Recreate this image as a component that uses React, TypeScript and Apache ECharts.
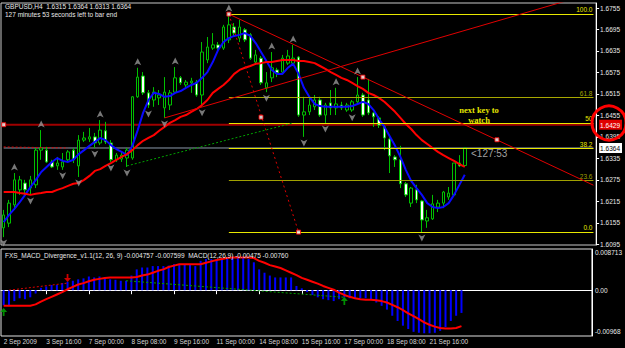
import React, { useEffect, useRef } from 'react';
import * as echarts from 'echarts';

const SLOT_COUNT = 111;
const BARS_PER_LABEL = 8;
const timeLabels = ['2 Sep 2009', '3 Sep 16:00', '7 Sep 00:00', '8 Sep 08:00', '9 Sep 16:00', '11 Sep 00:00', '14 Sep 08:00', '15 Sep 16:00', '17 Sep 00:00', '18 Sep 08:00', '21 Sep 16:00'];

const priceTicks = [1.6755, 1.6695, 1.6635, 1.6575, 1.6515, 1.6455, 1.6395, 1.6335, 1.6275, 1.6215, 1.6155, 1.6095];
const macdTicks = [0.008713, 0, -0.00968];
const macdTickText = ['0.008713', '0.00', '-0.00968'];

// [open, close, low, high]
const candles = [
  [1.6141, 1.6177, 1.6115, 1.6191], [1.6154, 1.6210, 1.6143, 1.6219], [1.6205, 1.6275, 1.6191, 1.6294], [1.6247, 1.6275, 1.6233, 1.6286],
  [1.6266, 1.6247, 1.6233, 1.6275], [1.6252, 1.6275, 1.6233, 1.6286], [1.6261, 1.6358, 1.6252, 1.6364], [1.6358, 1.6364, 1.6331, 1.6414],
  [1.6358, 1.6325, 1.6322, 1.6367], [1.6325, 1.6311, 1.6308, 1.6331], [1.6314, 1.6322, 1.6303, 1.6339], [1.6311, 1.6325, 1.6303, 1.6350],
  [1.6331, 1.6353, 1.6325, 1.6358], [1.6358, 1.6331, 1.6322, 1.6364], [1.6314, 1.6386, 1.6283, 1.6400], [1.6386, 1.6392, 1.6381, 1.6409],
  [1.6389, 1.6395, 1.6381, 1.6420], [1.6395, 1.6378, 1.6364, 1.6406], [1.6378, 1.6414, 1.6372, 1.6442], [1.6412, 1.6381, 1.6375, 1.6437],
  [1.6378, 1.6331, 1.6325, 1.6386], [1.6331, 1.6344, 1.6325, 1.6350], [1.6333, 1.6344, 1.6325, 1.6353], [1.6336, 1.6358, 1.6311, 1.6364],
  [1.6336, 1.6507, 1.6331, 1.6509], [1.6507, 1.6562, 1.6504, 1.6588], [1.6565, 1.6518, 1.6512, 1.6576], [1.6518, 1.6484, 1.6476, 1.6526],
  [1.6498, 1.6520, 1.6479, 1.6534], [1.6504, 1.6512, 1.6484, 1.6526], [1.6476, 1.6520, 1.6448, 1.6562], [1.6484, 1.6518, 1.6470, 1.6526],
  [1.6520, 1.6560, 1.6518, 1.6590], [1.6560, 1.6546, 1.6540, 1.6565], [1.6540, 1.6548, 1.6534, 1.6554], [1.6546, 1.6551, 1.6518, 1.6560],
  [1.6548, 1.6512, 1.6507, 1.6554], [1.6512, 1.6632, 1.6479, 1.6660], [1.6610, 1.6646, 1.6601, 1.6674], [1.6643, 1.6652, 1.6638, 1.6685],
  [1.6652, 1.6643, 1.6638, 1.6660], [1.6643, 1.6702, 1.6638, 1.6708], [1.6666, 1.6708, 1.6657, 1.6738], [1.6702, 1.6685, 1.6674, 1.6713],
  [1.6671, 1.6702, 1.6660, 1.6722], [1.6694, 1.6666, 1.6660, 1.6699], [1.6680, 1.6615, 1.6610, 1.6685], [1.6604, 1.6624, 1.6596, 1.6638],
  [1.6615, 1.6546, 1.6540, 1.6621], [1.6532, 1.6546, 1.6520, 1.6576], [1.6560, 1.6588, 1.6548, 1.6632], [1.6582, 1.6574, 1.6562, 1.6588],
  [1.6576, 1.6615, 1.6571, 1.6624], [1.6601, 1.6621, 1.6596, 1.6638], [1.6601, 1.6615, 1.6596, 1.6652], [1.6618, 1.6456, 1.6451, 1.6621],
  [1.6456, 1.6465, 1.6395, 1.6507], [1.6465, 1.6484, 1.6456, 1.6507], [1.6479, 1.6498, 1.6470, 1.6512], [1.6498, 1.6456, 1.6451, 1.6507],
  [1.6456, 1.6484, 1.6434, 1.6490], [1.6490, 1.6476, 1.6456, 1.6526], [1.6476, 1.6487, 1.6456, 1.6532], [1.6484, 1.6476, 1.6470, 1.6493],
  [1.6470, 1.6484, 1.6465, 1.6490], [1.6470, 1.6493, 1.6465, 1.6498], [1.6493, 1.6512, 1.6490, 1.6562], [1.6512, 1.6456, 1.6451, 1.6518],
  [1.6498, 1.6462, 1.6456, 1.6557], [1.6462, 1.6451, 1.6423, 1.6465], [1.6448, 1.6428, 1.6420, 1.6453], [1.6423, 1.6392, 1.6358, 1.6428],
  [1.6389, 1.6342, 1.6294, 1.6395], [1.6339, 1.6331, 1.6311, 1.6344], [1.6331, 1.6264, 1.6252, 1.6370], [1.6264, 1.6233, 1.6227, 1.6269],
  [1.6210, 1.6252, 1.6199, 1.6255], [1.6247, 1.6219, 1.6210, 1.6261], [1.6216, 1.6163, 1.6129, 1.6219], [1.6160, 1.6169, 1.6141, 1.6191],
  [1.6166, 1.6208, 1.6163, 1.6233], [1.6199, 1.6210, 1.6185, 1.6219], [1.6210, 1.6241, 1.6196, 1.6244], [1.6227, 1.6238, 1.6219, 1.6255],
  [1.6233, 1.6322, 1.6227, 1.6322], [1.6322, 1.6314, 1.6311, 1.6344], [1.6315, 1.6364, 1.6313, 1.6364],
];

const fastMA = [
  1.6157, 1.6177, 1.6194, 1.6213, 1.6233, 1.6255, 1.6275, 1.6297, 1.6311, 1.6325, 1.6336, 1.6328, 1.6325, 1.6331, 1.6347, 1.6358,
  1.6370, 1.6381, 1.6392, 1.6386, 1.6372, 1.6361, 1.6353, 1.6344, 1.6370, 1.6414, 1.6462, 1.6498, 1.6518, 1.6515, 1.6507, 1.6509,
  1.6518, 1.6523, 1.6532, 1.6540, 1.6546, 1.6560, 1.6576, 1.6604, 1.6638, 1.6660, 1.6671, 1.6677, 1.6680, 1.6685, 1.6677, 1.6657,
  1.6632, 1.6607, 1.6582, 1.6571, 1.6571, 1.6588, 1.6599, 1.6571, 1.6532, 1.6507, 1.6487, 1.6481, 1.6479, 1.6479, 1.6479, 1.6479,
  1.6479, 1.6481, 1.6487, 1.6493, 1.6487, 1.6470, 1.6445, 1.6423, 1.6397, 1.6370, 1.6339, 1.6303, 1.6272, 1.6252, 1.6233, 1.6210,
  1.6199, 1.6196, 1.6199, 1.6210, 1.6233, 1.6261, 1.6289,
];

const slowMA = [
  1.6241, 1.6241, 1.6241, 1.6238, 1.6236, 1.6233, 1.6236, 1.6238, 1.6241, 1.6241, 1.6247, 1.6252, 1.6258, 1.6264, 1.6266, 1.6275,
  1.6286, 1.6300, 1.6305, 1.6314, 1.6322, 1.6331, 1.6339, 1.6347, 1.6358, 1.6372, 1.6384, 1.6392, 1.6400, 1.6412, 1.6423, 1.6434,
  1.6442, 1.6451, 1.6456, 1.6465, 1.6473, 1.6484, 1.6498, 1.6518, 1.6529, 1.6540, 1.6554, 1.6571, 1.6582, 1.6588, 1.6593, 1.6599,
  1.6601, 1.6604, 1.6604, 1.6607, 1.6610, 1.6610, 1.6610, 1.6607, 1.6607, 1.6604, 1.6601, 1.6593, 1.6585, 1.6576, 1.6568, 1.6560,
  1.6554, 1.6546, 1.6537, 1.6529, 1.6518, 1.6512, 1.6504, 1.6493, 1.6479, 1.6465, 1.6448, 1.6431, 1.6417, 1.6400, 1.6386, 1.6375,
  1.6364, 1.6353, 1.6344, 1.6336, 1.6328, 1.6319, 1.6311,
];

const macdHist = [
  -0.0032, -0.0032, -0.0023, -0.0017, -0.0019, -0.0015, -0.0007, 0.0005, 0.0008, 0.0011, 0.0011, 0.0015, 0.0018, 0.0020, 0.0023, 0.0025,
  0.0029, 0.0027, 0.0029, 0.0027, 0.0023, 0.0022, 0.0020, 0.0020, 0.0031, 0.0044, 0.0048, 0.0048, 0.0051, 0.0051, 0.0051, 0.0052,
  0.0055, 0.0055, 0.0055, 0.0055, 0.0051, 0.0062, 0.0066, 0.0066, 0.0066, 0.0067, 0.0069, 0.0069, 0.0069, 0.0069, 0.0066, 0.0059,
  0.0044, 0.0037, 0.0031, 0.0027, 0.0027, 0.0027, 0.0027, 0.0009, 0.0004, -0.0004, -0.0010, -0.0015, -0.0019, -0.0021, -0.0023, -0.0019,
  -0.0015, -0.0017, -0.0017, -0.0017, -0.0017, -0.0019, -0.0026, -0.0033, -0.0041, -0.0054, -0.0065, -0.0075, -0.0082, -0.0088, -0.0090, -0.0091,
  -0.0091, -0.0090, -0.0086, -0.0078, -0.0065, -0.0054, -0.0048,
];

const macdSignal = [
  -0.0033, -0.0033, -0.0033, -0.0033, -0.0033, -0.0033, -0.0030, -0.0024, -0.0019, -0.0014, -0.0009, -0.0004, 0.0002, 0.0007, 0.0012, 0.0015,
  0.0019, 0.0022, 0.0024, 0.0026, 0.0027, 0.0027, 0.0027, 0.0027, 0.0027, 0.0028, 0.0031, 0.0033, 0.0037, 0.0041, 0.0044, 0.0049,
  0.0052, 0.0055, 0.0055, 0.0055, 0.0055, 0.0055, 0.0058, 0.0061, 0.0064, 0.0066, 0.0068, 0.0069, 0.0069, 0.0069, 0.0069, 0.0068,
  0.0062, 0.0058, 0.0053, 0.0050, 0.0047, 0.0042, 0.0037, 0.0032, 0.0026, 0.0022, 0.0018, 0.0014, 0.0009, 0.0005, 0.0001, -0.0005,
  -0.0010, -0.0014, -0.0017, -0.0019, -0.0020, -0.0020, -0.0021, -0.0023, -0.0026, -0.0031, -0.0036, -0.0042, -0.0049, -0.0055, -0.0061, -0.0068,
  -0.0073, -0.0077, -0.0080, -0.0081, -0.0081, -0.0080, -0.0076,
];

const fibNames = ['100.0', '61.8', '50', '38.2', '23.6', '0.0'];
const fibValues = [1.6738, 1.6505, 1.6434, 1.6362, 1.6273, 1.6129];
const fibStartBar = 42;
const fibEndSlot = 110;

const levelRed = 1.6429;
const bidPrice = 1.6364;
const lineFirstSlot = 0;
const lineLastSlot = 110;

const fractalUpBars = [2, 7, 18, 25, 32, 42, 50, 54, 62, 66];
const fractalDownBars = [0, 5, 11, 14, 17, 20, 23, 27, 30, 37, 49, 56, 60, 65, 78];

const trendDown = [[42, 1.6738], [110, 1.6260]];
const trendDownAnchors = [[42, 1.6738], [67, 1.6562], [92, 1.6387]];
const trendUp = [[30, 1.6448], [110, 1.6797]];
const fibDiagonal = [[42, 1.6738], [55, 1.6129]];
const fibDiagonalAnchors = [[48, 1.6450], [55, 1.6129]];
const levelAnchor = [[0, 1.6429]];
const divBearPrice = [[0, 1.6367], [12, 1.6364]];
const divBullPrice = [[23, 1.6314], [54, 1.6434]];
const divBearMacd = [[1, 0.0], [12, 0.0015]];
const divBullMacd = [[23, 0.0020], [64, -0.0015]];
const macdSellArrows = [[12, 0.0026]];
const macdBuyArrows = [[64, -0.0023], [0, -0.0046]];

const symbolLine = 'GBPUSD,H4  1.6315 1.6364 1.6313 1.6364';
const timerLine = '127 minutes 53 seconds left to bar end';
const macdHeader = 'FXS_MACD_Divergence_v1.1(12, 26, 9) -0.004757 -0.007599  MACD(12,26,9) -0.00475 -0.00760';
const noteLines = ['next key to', 'watch'];
const timerTag = '<127:53';

const FONT = '"Liberation Sans", Arial, sans-serif';
const ARROW_UP = 'path://M4 0 L8 8 L4 6 L0 8 Z';
const ARROW_DOWN_STEM = 'path://M3 0 L5 0 L5 5 L8 5 L4 10 L0 5 L3 5 Z';

export default function App() {
  const ref = useRef<HTMLDivElement>(null);

  useEffect(() => {
    if (!ref.current) return;
    const chart = echarts.init(ref.current, undefined, { renderer: 'svg' });
    const slots = Array.from({ length: SLOT_COUNT }, (_, i) => String(i));
    const showLabelAt = (index: number) => index % BARS_PER_LABEL === 0 && index / BARS_PER_LABEL < timeLabels.length;
    const near = (a: number, b: number) => Math.abs(a - b) < 1e-7;

    const fibColors = ['#e8e800', '#a8a800', '#e8e800', '#e8e800', '#a0a000', '#e8e800'];
    const fibMarks = fibValues.map((v, k) => [
      {
        coord: [fibStartBar, v],
        lineStyle: { color: fibColors[k], width: 1, type: 'solid' },
        label: { show: true, position: 'insideEndTop', formatter: fibNames[k], color: fibColors[k], fontSize: 6.5, fontFamily: FONT, distance: 1 },
      },
      { coord: [fibEndSlot, v] },
    ]);

    const priceLabelValues = [...priceTicks, levelRed, bidPrice];

    const option: any = {
      animation: false,
      backgroundColor: '#000000',
      textStyle: { fontFamily: FONT },
      grid: [
        { left: 1, top: 3, right: 26, height: 242, show: true, borderColor: '#c8c8c8', borderWidth: 1, backgroundColor: '#000' },
        { left: 1, top: 249, right: 26, height: 87, show: true, borderColor: '#e0e0e0', borderWidth: 1, backgroundColor: '#000' },
      ],
      xAxis: [
        {
          type: 'category', gridIndex: 0, data: slots, boundaryGap: true,
          axisLine: { show: false }, axisTick: { show: false }, axisLabel: { show: false }, splitLine: { show: false },
        },
        {
          type: 'category', gridIndex: 1, data: slots, boundaryGap: true, position: 'bottom',
          axisLine: { show: true, lineStyle: { color: '#ffffff', width: 1 } },
          axisTick: { show: true, interval: showLabelAt, alignWithLabel: true, length: 4, lineStyle: { color: '#ffffff' } },
          axisLabel: {
            show: true, interval: showLabelAt, align: 'left', verticalAlign: 'top', margin: 2, color: '#d8d8d8', fontSize: 6.5,
            formatter: (_v: string, idx: number) => (idx % BARS_PER_LABEL === 0 ? timeLabels[idx / BARS_PER_LABEL] ?? '' : ''),
          },
          splitLine: { show: false },
        },
      ],
      yAxis: [
        {
          type: 'value', gridIndex: 0, position: 'right', min: 1.6093, max: 1.6769,
          axisLine: { show: true, lineStyle: { color: '#ffffff' } },
          axisTick: { show: true, customValues: priceTicks, length: 3, lineStyle: { color: '#ffffff' } },
          axisLabel: {
            show: true, customValues: priceLabelValues, color: '#e8e8e8', fontSize: 6.5, margin: 3,
            formatter: (v: number) => {
              if (near(v, levelRed)) return `{red|${v.toFixed(4)}}`;
              if (near(v, bidPrice)) return `{bid|${v.toFixed(4)}}`;
              return `{n|${v.toFixed(4)}}`;
            },
            rich: {
              n: { color: '#e8e8e8', fontSize: 6.5, padding: [0, 0, 0, 1] },
              red: { color: '#ffffff', backgroundColor: '#e00000', fontSize: 6.5, padding: [2, 2, 1, 1] },
              bid: { color: '#000000', backgroundColor: '#ffffff', fontSize: 6.5, padding: [2, 2, 1, 1] },
            },
          },
          splitLine: { show: false },
        },
        {
          type: 'value', gridIndex: 1, position: 'right', min: macdTicks[2], max: macdTicks[0],
          axisLine: { show: true, lineStyle: { color: '#ffffff' } },
          axisTick: { show: false },
          axisLabel: {
            show: true, customValues: macdTicks, color: '#e8e8e8', fontSize: 6.5, margin: 3,
            formatter: (v: number) => {
              const k = macdTicks.indexOf(v);
              const t = k >= 0 ? macdTickText[k] : '';
              return k === 0 ? `{t|${t}}` : k === 2 ? `{b|${t}}` : `{m|${t}}`;
            },
            rich: {
              t: { padding: [7, 0, 0, 0], color: '#e8e8e8', fontSize: 6.5 },
              m: { color: '#e8e8e8', fontSize: 6.5 },
              b: { padding: [0, 0, 10, 0], color: '#e8e8e8', fontSize: 6.5 },
            },
          },
          splitLine: { show: false },
        },
      ],
      series: [
        {
          type: 'line', xAxisIndex: 0, yAxisIndex: 0, data: [], z: 1,
          markLine: { silent: true, symbol: ['none', 'none'], data: fibMarks },
        },
        {
          type: 'line', xAxisIndex: 0, yAxisIndex: 0, data: [[lineFirstSlot, bidPrice], [lineLastSlot, bidPrice]],
          symbol: 'none', z: 2, lineStyle: { color: '#8c9aab', width: 1 },
        },
        {
          type: 'line', xAxisIndex: 0, yAxisIndex: 0, data: [[lineFirstSlot, levelRed], [lineLastSlot, levelRed]],
          symbol: 'none', z: 2, lineStyle: { color: '#a00000', width: 2 },
        },
        {
          type: 'candlestick', name: 'GBPUSD', xAxisIndex: 0, yAxisIndex: 0, data: candles, barWidth: 3, z: 3,
          itemStyle: { color: '#000000', color0: '#ffffff', borderColor: '#00c000', borderColor0: '#00c000', borderWidth: 1 },
        },
        { type: 'line', name: 'fast', xAxisIndex: 0, yAxisIndex: 0, data: fastMA, showSymbol: false, symbol: 'none', z: 4, lineStyle: { color: '#0a0aff', width: 2 } },
        { type: 'line', name: 'slow', xAxisIndex: 0, yAxisIndex: 0, data: slowMA, showSymbol: false, symbol: 'none', z: 4, lineStyle: { color: '#ff0000', width: 2 } },
        { type: 'line', xAxisIndex: 0, yAxisIndex: 0, data: trendDown, symbol: 'none', z: 5, lineStyle: { color: '#e00000', width: 1 } },
        { type: 'line', xAxisIndex: 0, yAxisIndex: 0, data: trendUp, symbol: 'none', z: 5, lineStyle: { color: '#e00000', width: 1 } },
        { type: 'line', xAxisIndex: 0, yAxisIndex: 0, data: fibDiagonal, symbol: 'none', z: 5, lineStyle: { color: '#e00000', width: 1, type: [2, 3] } },
        { type: 'line', xAxisIndex: 0, yAxisIndex: 0, data: divBearPrice, symbol: 'none', z: 5, lineStyle: { color: '#e00000', width: 1, type: [2, 2] } },
        { type: 'line', xAxisIndex: 0, yAxisIndex: 0, data: divBullPrice, symbol: 'none', z: 5, lineStyle: { color: '#00a000', width: 1, type: [2, 2] } },
        {
          type: 'scatter', xAxisIndex: 0, yAxisIndex: 0, z: 6, symbol: 'rect', symbolSize: 4,
          data: [...trendDownAnchors, ...fibDiagonalAnchors, ...levelAnchor],
          itemStyle: { color: '#ffffff', borderColor: '#ff0000', borderWidth: 1 },
        },
        {
          type: 'scatter', xAxisIndex: 0, yAxisIndex: 0, z: 6, symbol: ARROW_UP, symbolSize: [7, 7], symbolOffset: [0, -6],
          data: fractalUpBars.map((i) => [i, candles[i][3]]), itemStyle: { color: '#969696' },
        },
        {
          type: 'scatter', xAxisIndex: 0, yAxisIndex: 0, z: 6, symbol: ARROW_UP, symbolRotate: 180, symbolSize: [7, 7], symbolOffset: [0, 6],
          data: fractalDownBars.map((i) => [i, candles[i][2]]), itemStyle: { color: '#969696' },
        },
        { type: 'bar', xAxisIndex: 1, yAxisIndex: 1, data: macdHist, barWidth: 2, itemStyle: { color: '#0000ff' }, z: 2 },
        { type: 'line', xAxisIndex: 1, yAxisIndex: 1, data: macdSignal, symbol: 'none', z: 4, lineStyle: { color: '#ff0000', width: 2 } },
        { type: 'line', xAxisIndex: 1, yAxisIndex: 1, data: divBearMacd, symbol: 'none', z: 5, lineStyle: { color: '#e00000', width: 1, type: [2, 2] } },
        { type: 'line', xAxisIndex: 1, yAxisIndex: 1, data: divBullMacd, symbol: 'none', z: 5, lineStyle: { color: '#00a000', width: 1, type: [2, 2] } },
        {
          type: 'scatter', xAxisIndex: 1, yAxisIndex: 1, z: 6, symbol: ARROW_DOWN_STEM, symbolSize: [7, 8],
          data: macdSellArrows, itemStyle: { color: '#ff0000' },
        },
        {
          type: 'scatter', xAxisIndex: 1, yAxisIndex: 1, z: 6, symbol: ARROW_DOWN_STEM, symbolRotate: 180, symbolSize: [7, 8],
          data: macdBuyArrows, itemStyle: { color: '#00b000' },
        },
      ],
      graphic: [
        { type: 'text', x: 5, y: 3, z: 50, style: { text: symbolLine, fill: '#e8e8e8', font: `6.5px ${FONT}`, align: 'left', verticalAlign: 'top' } },
        { type: 'text', x: 5, y: 10.5, z: 50, style: { text: timerLine, fill: '#e8e8e8', font: `6.5px ${FONT}`, align: 'left', verticalAlign: 'top' } },
        { type: 'text', x: 5, y: 251.5, z: 50, style: { text: macdHeader, fill: '#e8e8e8', font: `6.5px ${FONT}`, align: 'left', verticalAlign: 'top' } },
        { type: 'text', x: 479, y: 110, z: 50, style: { text: noteLines[0], fill: '#e6e600', font: `bold 8.5px "Liberation Serif", serif`, align: 'center', verticalAlign: 'middle' } },
        { type: 'text', x: 479, y: 120, z: 50, style: { text: noteLines[1], fill: '#e6e600', font: `bold 8.5px "Liberation Serif", serif`, align: 'center', verticalAlign: 'middle' } },
        { type: 'text', x: 471, y: 153, z: 50, style: { text: timerTag, fill: '#a0a0a0', font: `10px ${FONT}`, align: 'left', verticalAlign: 'middle' } },
        { type: 'circle', z: 100, shape: { cx: 609, cy: 123, r: 17 }, style: { fill: 'rgba(0,0,0,0)', stroke: '#ff0000', lineWidth: 3 } },
      ],
    };

    chart.setOption(option);
    return () => chart.dispose();
  }, []);

  return <div ref={ref} style={{ position: 'fixed', left: 0, top: 0, width: 625, height: 348, background: '#000' }} />;
}
